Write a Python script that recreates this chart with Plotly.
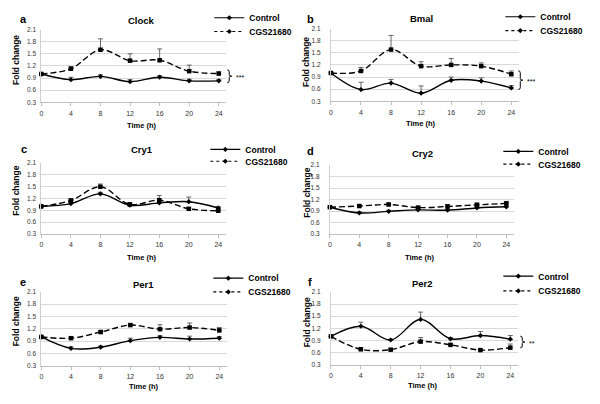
import plotly.graph_objects as go

W, H = 600, 404

time_h = [0, 4, 8, 12, 16, 20, 24]
x_ticks = [0, 4, 8, 12, 16, 20, 24]
y_ticks = [0.3, 0.6, 0.9, 1.2, 1.5, 1.8, 2.1]
y_tick_labels = ["0.3", "0.6", "0.9", "1.2", "1.5", "1.8", "2.1"]

genes = ["Clock", "Bmal", "Cry1", "Cry2", "Per1", "Per2"]
panel_letters = ["a", "b", "c", "d", "e", "f"]
series_names = ["Control", "CGS21680"]

clock_control = [1.0, 0.86, 0.94, 0.81, 0.92, 0.83, 0.83]
clock_control_err = [0.02, 0.06, 0.04, 0.05, 0.04, 0.04, 0.03]
clock_cgs = [1.0, 1.13, 1.6, 1.33, 1.34, 1.07, 1.01]
clock_cgs_err = [0.02, 0.05, 0.27, 0.17, 0.28, 0.15, 0.04]

bmal_control = [1.0, 0.59, 0.75, 0.5, 0.82, 0.8, 0.63]
bmal_control_err = [0.02, 0.18, 0.09, 0.18, 0.08, 0.08, 0.06]
bmal_cgs = [1.0, 1.05, 1.58, 1.17, 1.2, 1.17, 0.97]
bmal_cgs_err = [0.02, 0.09, 0.35, 0.11, 0.16, 0.08, 0.08]

cry1_control = [1.0, 1.07, 1.32, 1.03, 1.09, 1.12, 0.96]
cry1_control_err = [0.02, 0.03, 0.04, 0.05, 0.05, 0.12, 0.04]
cry1_cgs = [1.0, 1.15, 1.5, 1.05, 1.16, 0.94, 0.89]
cry1_cgs_err = [0.02, 0.05, 0.07, 0.05, 0.12, 0.03, 0.03]

cry2_control = [1.0, 0.85, 0.89, 0.93, 0.92, 0.98, 1.01]
cry2_control_err = [0.02, 0.03, 0.03, 0.04, 0.04, 0.04, 0.04]
cry2_cgs = [1.0, 1.03, 1.07, 0.99, 1.02, 1.06, 1.1]
cry2_cgs_err = [0.02, 0.03, 0.04, 0.03, 0.05, 0.05, 0.05]

per1_control = [1.0, 0.72, 0.75, 0.91, 0.99, 0.95, 0.97]
per1_control_err = [0.02, 0.04, 0.03, 0.06, 0.04, 0.07, 0.04]
per1_cgs = [1.0, 0.97, 1.12, 1.29, 1.19, 1.23, 1.16]
per1_cgs_err = [0.02, 0.03, 0.04, 0.03, 0.11, 0.11, 0.07]

per2_control = [1.0, 1.25, 0.91, 1.42, 0.94, 1.02, 0.93]
per2_control_err = [0.02, 0.1, 0.02, 0.18, 0.03, 0.1, 0.09]
per2_cgs = [1.0, 0.68, 0.67, 0.87, 0.79, 0.66, 0.72]
per2_cgs_err = [0.02, 0.04, 0.03, 0.1, 0.03, 0.02, 0.09]

significance = ["***", "***", "", "", "", "**"]

control_values = [clock_control, bmal_control, cry1_control, cry2_control, per1_control, per2_control]
control_errors = [clock_control_err, bmal_control_err, cry1_control_err, cry2_control_err, per1_control_err, per2_control_err]
cgs_values = [clock_cgs, bmal_cgs, cry1_cgs, cry2_cgs, per1_cgs, per2_cgs]
cgs_errors = [clock_cgs_err, bmal_cgs_err, cry1_cgs_err, cry2_cgs_err, per1_cgs_err, per2_cgs_err]

# ---------------- layout (pixel geometry) ----------------
FONT = "Liberation Sans, Arial, sans-serif"
# x of t=0, x of t=24, top y, bottom y
geom = [
    (39.5, 217.5, 26, 100),
    (330, 511, 25, 99),
    (39.5, 217, 162, 234),
    (329, 506, 164, 234),
    (39.5, 218, 293, 368),
    (330, 510, 293, 367),
]
tick_standoff = [3, 8, 3, 8, 3, 8]
title_pos = [(140, 17), (421, 15), (140, 148), (422, 152), (142, 285), (422, 284)]
letter_pos = [(22, 15), (310, 15), (22, 148), (310, 150), (21, 283), (309, 283)]
xlabel_pos = [(140, 124), (420, 122), (140, 258), (419, 258), (142, 389), (422, 388)]
ylabel_pos = [(14, 57), (305, 59), (14, 190), (306, 192), (14, 323), (306, 324)]
legend_pos = [(208, 14, 28), (500, 13, 27), (204, 148, 160), (498, 150, 163), (207, 279, 293), (498, 277, 292)]
bracket_pos = [(228, 67, 80), (520, 68, 87), None, None, None, (522, 338, 350)]

def px(x):
    return x / W

def py(y):
    return 1 - y / H

fig = go.Figure()
annotations = []
shapes = []
layout = {}

for i in range(6):
    n = "" if i == 0 else str(i + 1)
    x0, x24, ytop, ybot = geom[i]
    xright = x0 + (x24 - x0) * 25 / 24
    layout["xaxis" + n] = dict(
        domain=[px(x0), px(xright)], range=[0, 25], anchor="y" + n,
        tickvals=x_ticks, ticktext=[str(t) for t in x_ticks],
        ticks="outside", ticklen=3, tickcolor="#bfbfbf", tickwidth=1,
        showline=True, linecolor="#bfbfbf", linewidth=1,
        showgrid=False, zeroline=False,
        tickfont=dict(family=FONT, size=7, color="#333"),
        ticklabelstandoff=1, fixedrange=True,
    )
    layout["yaxis" + n] = dict(
        domain=[py(ybot), py(ytop)], range=[0.3, 2.1], anchor="x" + n,
        tickvals=y_ticks, ticktext=y_tick_labels,
        showline=True, linecolor="#d0d0d0", linewidth=1,
        showgrid=True, gridcolor="#d9d9d9", gridwidth=1, zeroline=False,
        ticks="", tickfont=dict(family=FONT, size=6.5, color="#333"),
        ticklabelstandoff=tick_standoff[i], fixedrange=True,
    )
    xa = "x" + n
    ya = "y" + n

    fig.add_trace(go.Scatter(
        x=time_h, y=control_values[i], xaxis=xa, yaxis=ya, mode="lines+markers",
        line=dict(color="black", width=1.4, shape="spline", smoothing=1),
        marker=dict(symbol="diamond", size=4, color="black"),
        error_y=dict(type="data", array=control_errors[i], arrayminus=[0] * 7,
                     symmetric=False, color="#444", thickness=0.8, width=2.5),
        showlegend=False, cliponaxis=False, name=series_names[0],
    ))
    fig.add_trace(go.Scatter(
        x=time_h, y=cgs_values[i], xaxis=xa, yaxis=ya, mode="lines+markers",
        line=dict(color="black", width=1.4, dash="6px,3px", shape="spline", smoothing=1),
        marker=dict(symbol="square", size=4.5, color="black"),
        error_y=dict(type="data", array=cgs_errors[i], arrayminus=[0] * 7,
                     symmetric=False, color="#444", thickness=0.8, width=2.5),
        showlegend=False, cliponaxis=False, name=series_names[1],
    ))

    # legend entries (one legend per row, so rows can be placed freely)
    lx, ly1, ly2 = legend_pos[i]
    for k, (nm, dash, yy) in enumerate([(series_names[0], "solid", ly1), (series_names[1], "dot", ly2)]):
        lid = "legend" + ("" if (2 * i + k) == 0 else str(2 * i + k + 1))
        fig.add_trace(go.Scatter(
            x=[None], y=[None], xaxis=xa, yaxis=ya, mode="lines+markers",
            line=dict(color="black", width=1.2, dash=dash),
            marker=dict(symbol="diamond", size=4, color="black"),
            name="<b>" + nm + "</b>", legend=lid, showlegend=True,
        ))
        layout[lid] = dict(
            x=px(lx), y=py(yy), xanchor="left", yanchor="middle",
            bgcolor="rgba(0,0,0,0)", borderwidth=0, itemwidth=30,
            font=dict(family=FONT, size=8.5, color="black"),
            tracegroupgap=0,
        )

    tx, ty = title_pos[i]
    annotations.append(dict(text="<b>" + genes[i] + "</b>", x=px(tx), y=py(ty), xref="paper", yref="paper",
                            showarrow=False, xanchor="center", yanchor="middle",
                            font=dict(family=FONT, size=9.5, color="black")))
    lx0, ly0 = letter_pos[i]
    annotations.append(dict(text="<b>" + panel_letters[i] + "</b>", x=px(lx0), y=py(ly0), xref="paper", yref="paper",
                            showarrow=False, xanchor="center", yanchor="middle",
                            font=dict(family=FONT, size=11, color="black")))
    xlx, xly = xlabel_pos[i]
    annotations.append(dict(text="<b>Time (h)</b>", x=px(xlx), y=py(xly), xref="paper", yref="paper",
                            showarrow=False, xanchor="center", yanchor="middle",
                            font=dict(family=FONT, size=7.5, color="black")))
    ylx, yly = ylabel_pos[i]
    annotations.append(dict(text="<b>Fold change</b>", x=px(ylx), y=py(yly), xref="paper", yref="paper",
                            showarrow=False, xanchor="center", yanchor="middle", textangle=-90,
                            font=dict(family=FONT, size=8.5, color="black")))

    if bracket_pos[i] is not None:
        bx, by1, by2 = bracket_pos[i]
        bm = (by1 + by2) / 2
        pts = [
            ("M", bx - 2, by1), ("Q", bx, by1, bx, by1 + 2), ("L", bx, bm - 1.5),
            ("Q", bx, bm, bx + 2.5, bm), ("Q", bx, bm, bx, bm + 1.5), ("L", bx, by2 - 2),
            ("Q", bx, by2, bx - 2, by2),
        ]
        path = ""
        for p in pts:
            cmd = p[0]
            coords = p[1:]
            s = []
            for j in range(0, len(coords), 2):
                s.append(f"{px(coords[j]):.5f},{py(coords[j + 1]):.5f}")
            path += cmd + " ".join(s) + " "
        shapes.append(dict(type="path", path=path.strip(), xref="paper", yref="paper",
                           line=dict(color="black", width=1)))
        annotations.append(dict(text=significance[i], x=px(bx + 5), y=py(bm + 1), xref="paper", yref="paper",
                                showarrow=False, xanchor="left", yanchor="middle",
                                font=dict(family=FONT, size=7, color="black")))

fig.update_layout(
    width=W, height=H, margin=dict(l=0, r=0, t=0, b=0),
    paper_bgcolor="white", plot_bgcolor="white",
    annotations=annotations, shapes=shapes,
    **layout,
)

fig.write_html("out.html", config={"displayModeBar": False},
               post_script="document.body.style.margin='0';document.body.style.padding='0';")
